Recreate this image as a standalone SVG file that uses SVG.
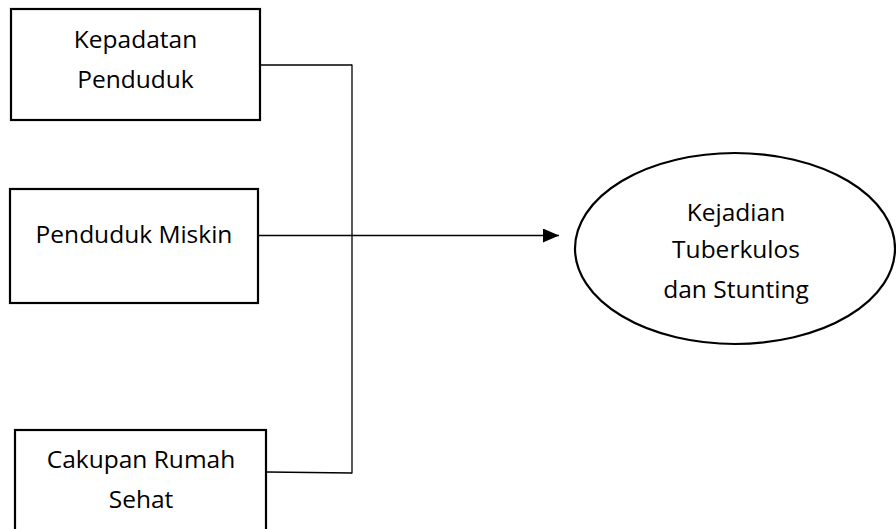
<svg xmlns="http://www.w3.org/2000/svg" width="896" height="529" viewBox="0 0 896 529">
<style>
.box{fill:#fff;stroke:#000;stroke-width:2.2}
.t{font-family:"Open Sans",Lato,sans-serif;font-size:24.5px;fill:#000;text-anchor:middle}
.c{fill:none;stroke:#000;stroke-width:1.3}
</style>
<defs>
<marker id="ah" markerWidth="16" markerHeight="14" refX="16" refY="7" orient="auto" markerUnits="userSpaceOnUse">
<path d="M0,0 L16,7 L0,14 Z" fill="#000"/>
</marker>
</defs>
<rect width="896" height="529" fill="#fff"/>
<g id="connectors">
<line class="c" x1="260" y1="65" x2="352" y2="65"/>
<line class="c" x1="352" y1="64.5" x2="352" y2="473.5" stroke="#444"/>
<line class="c" x1="267" y1="472" x2="352" y2="473"/>
<line class="c" x1="258" y1="235.5" x2="559" y2="235.5" marker-end="url(#ah)"/>
</g>
<g id="kepadatan">
<rect class="box" x="11" y="9" width="249" height="111"/>
<text class="t" x="135.5" y="48">Kepadatan</text>
<text class="t" x="135.5" y="88">Penduduk</text>
</g>
<g id="miskin">
<rect class="box" x="10" y="189" width="248" height="114"/>
<text class="t" x="134" y="243">Penduduk Miskin</text>
</g>
<g id="rumah">
<rect class="box" x="15" y="430" width="251" height="110"/>
<text class="t" x="141" y="468">Cakupan Rumah</text>
<text class="t" x="141" y="508">Sehat</text>
</g>
<g id="kejadian">
<ellipse class="box" cx="735" cy="248.5" rx="160" ry="95.5"/>
<text class="t" x="736" y="221">Kejadian</text>
<text class="t" x="736" y="258">Tuberkulos</text>
<text class="t" x="736" y="298">dan Stunting</text>
</g>
</svg>
